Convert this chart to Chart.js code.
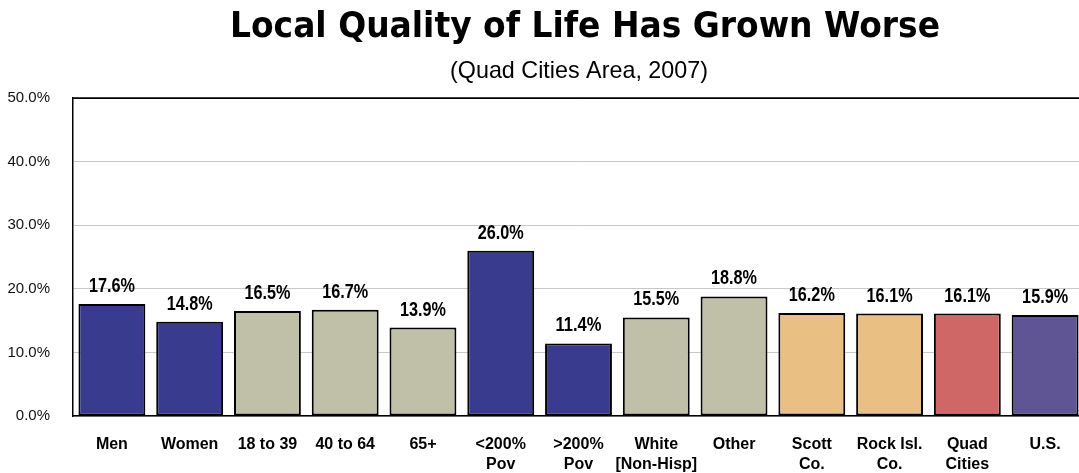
<!DOCTYPE html>
<html>
<head>
<meta charset="utf-8">
<script src="https://cdn.jsdelivr.net/npm/chart.js@4/dist/chart.umd.min.js"></script>
<style>
  html, body { margin: 0; padding: 0; background: #fff; overflow: hidden; }
  #wrap { width: 1084px; height: 473px; }
</style>
</head>
<body>
<div id="wrap"><canvas id="qolChart"></canvas></div>
<script>
/* data */
const categories = [
  "Men", "Women", "18 to 39", "40 to 64", "65+",
  ["<200%", "Pov"], [">200%", "Pov"], ["White", "[Non-Hisp]"], "Other",
  ["Scott", "Co."], ["Rock Isl.", "Co."], ["Quad", "Cities"], "U.S."
];
const worsePct = [17.6, 14.8, 16.5, 16.7, 13.9, 26.0, 11.4, 15.5, 18.8, 16.2, 16.1, 16.1, 15.9];
const yTicks = [0, 10, 20, 30, 40, 50];

const NAVY = "#383b8e", KHAKI = "#c0c0a8", TAN = "#e9bf83", RED = "#d06767", PURPLE = "#5f5595";
const barColors = [NAVY, NAVY, KHAKI, KHAKI, KHAKI, NAVY, NAVY, KHAKI, KHAKI, TAN, TAN, RED, PURPLE];

const titleText = "Local Quality of Life Has Grown Worse";
const subtitleText = "(Quad Cities Area, 2007)";

// draws text squeezed to a given width (the original fonts are narrow)
function fitText(ctx, txt, x, y, width) {
  const w = ctx.measureText(txt).width;
  ctx.save();
  ctx.translate(x, y);
  ctx.scale(width / w, 1);
  ctx.fillText(txt, 0, 0);
  ctx.restore();
}

// titles + top frame line
const headerPlugin = {
  id: "header",
  afterDraw(chart) {
    const { ctx, chartArea } = chart;
    ctx.save();
    ctx.fillStyle = "#000";
    ctx.textAlign = "center";
    ctx.textBaseline = "alphabetic";
    ctx.font = "bold 35px 'DejaVu Sans'";
    fitText(ctx, titleText, 585, 37, 710);

    ctx.font = "24px 'Liberation Sans'";
    fitText(ctx, subtitleText, 579, 78, 258);

    ctx.strokeStyle = "#000";
    ctx.lineWidth = 1.5;
    ctx.beginPath();
    ctx.moveTo(chartArea.left, chartArea.top);
    ctx.lineTo(chartArea.right + 5, chartArea.top);
    ctx.stroke();
    ctx.restore();
  }
};

// value labels above bars
const valueLabels = {
  id: "valueLabels",
  afterDatasetsDraw(chart) {
    const { ctx } = chart;
    const meta = chart.getDatasetMeta(0);
    ctx.save();
    ctx.fillStyle = "#000";
    ctx.font = "bold 20px 'Liberation Sans'";
    ctx.textAlign = "center";
    ctx.textBaseline = "alphabetic";
    meta.data.forEach((bar, i) => {
      fitText(ctx, worsePct[i].toFixed(1) + "%", bar.x, bar.y - 12, 46);
    });
    ctx.restore();
  }
};

new Chart(document.getElementById("qolChart"), {
  type: "bar",
  data: {
    labels: categories,
    datasets: [{
      data: worsePct,
      backgroundColor: barColors,
      borderColor: "#000",
      borderWidth: 2,
      borderSkipped: false,
      categoryPercentage: 1,
      barPercentage: 0.86
    }]
  },
  options: {
    responsive: true,
    maintainAspectRatio: false,
    animation: false,
    layout: { padding: { top: 98, left: 0, right: 0, bottom: 0 } },
    plugins: {
      legend: { display: false },
      tooltip: { enabled: false }
    },
    scales: {
      x: {
        grid: { display: false },
        border: { display: true, color: "#000", width: 1.5 },
        ticks: {
          color: "#000",
          font: { family: "'Liberation Sans'", size: 16, weight: "bold", lineHeight: 1.25 },
          padding: 11,
          maxRotation: 0,
          autoSkip: false
        },
        afterFit: (s) => { s.height = 57; }
      },
      y: {
        min: 0,
        max: 50,
        afterBuildTicks: (s) => { s.ticks = yTicks.map(v => ({ value: v })); },
        grid: {
          color: (c) => (c.tick && c.tick.value === 50 ? "#000" : "#c8c8c8"),
          lineWidth: 1,
          drawTicks: false
        },
        border: { display: true, color: "#000", width: 1.5 },
        ticks: {
          color: "#111",
          font: { family: "'Liberation Sans'", size: 15 },
          padding: 23,
          callback: (v) => v.toFixed(1) + "%"
        },
        afterFit: (s) => { s.width = 73; }
      }
    }
  },
  plugins: [headerPlugin, valueLabels]
});
</script>
</body>
</html>
